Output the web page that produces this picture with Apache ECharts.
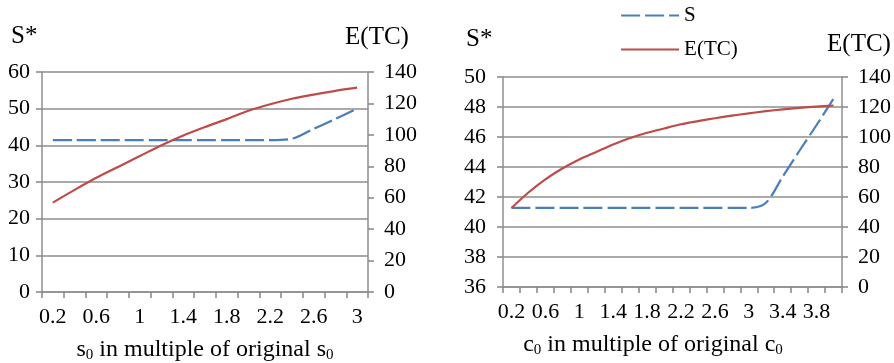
<!DOCTYPE html>
<html>
<head>
<meta charset="utf-8">
<script src="https://cdn.jsdelivr.net/npm/echarts@6/dist/echarts.min.js"></script>
<style>
  html, body { margin: 0; padding: 0; background: #fff; }
  #chart { width: 894px; height: 363px; }
</style>
</head>
<body>
<div id="chart"></div>
<script>
// Left panel: S* and E(TC) against s0 multiples
const leftCategories = ['0.2','0.4','0.6','0.8','1','1.2','1.4','1.6','1.8','2','2.2','2.4','2.6','2.8','3'];
const leftS = [41.4, 41.4, 41.4, 41.4, 41.4, 41.4, 41.4, 41.4, 41.4, 41.4, 41.4, 41.8, 44.5, 47.2, 50];
const leftETC = [56.9, 65, 72.7, 79.6, 86.5, 93.4, 99.6, 105, 110, 115.3, 119.5, 123, 125.6, 128, 130];

// Right panel: S* and E(TC) against c0 multiples
const rightCategories = ['0.2','0.4','0.6','0.8','1','1.2','1.4','1.6','1.8','2','2.2','2.4','2.6','2.8','3','3.2','3.4','3.6','3.8','4'];
const rightS = [41.27, 41.27, 41.27, 41.27, 41.27, 41.27, 41.27, 41.27, 41.27, 41.27, 41.27, 41.27, 41.27, 41.27, 41.27, 41.6, 43.35, 45.1, 46.8, 48.55];
const rightETC = [52.7, 63, 71.8, 79, 85, 90, 95, 99.3, 102.8, 105.7, 108.5, 110.6, 112.5, 114.2, 115.8, 117.2, 118.4, 119.4, 120.3, 121];

const FONT = "'Liberation Serif', 'Times New Roman', serif";
const GRID_COLOR = '#8e8e8e';
const TICK_COLOR = '#858585';
const BLUE = '#4A7EBB';
const RED = '#BE4B48';

function catAxis(gridIndex, data) {
  return {
    type: 'category',
    gridIndex: gridIndex,
    data: data,
    boundaryGap: true,
    axisLine: { show: true, lineStyle: { color: GRID_COLOR, width: 1.5 } },
    axisTick: { show: true, inside: false, interval: 0, length: 6, lineStyle: { color: TICK_COLOR, width: 1.5 } },
    axisLabel: { interval: 1, color: '#000', fontFamily: FONT, fontSize: 22, margin: 14 },
    splitLine: { show: false }
  };
}

function valAxis(gridIndex, min, max, interval, position, split, margin) {
  return {
    type: 'value',
    gridIndex: gridIndex,
    position: position,
    min: min,
    max: max,
    interval: interval,
    axisLine: { show: true, lineStyle: { color: GRID_COLOR, width: 1.5 } },
    axisTick: { show: true, inside: false, length: 6, lineStyle: { color: TICK_COLOR, width: 1.5 } },
    axisLabel: { color: '#000', fontFamily: FONT, fontSize: 22, margin: margin },
    splitLine: { show: split, lineStyle: { color: GRID_COLOR, width: 1.5 } }
  };
}

function lineSeries(name, xi, yi, data, color, dashed) {
  return {
    name: name,
    type: 'line',
    xAxisIndex: xi,
    yAxisIndex: yi,
    data: data,
    symbol: 'none',
    showSymbol: false,
    smooth: 0.3,
    lineStyle: { color: color, width: 2.2, type: dashed ? [19, 5] : 'solid' },
    itemStyle: { color: color },
    animation: false
  };
}

const subTitle = (base) => ({
  text: '{t|' + base + '}{s|0}{t| in multiple of original ' + base + '}{s|0}',
  rich: {
    t: { fontFamily: FONT, fontSize: 24, fill: '#000', lineHeight: 26 },
    s: { fontFamily: FONT, fontSize: 15, fill: '#000', verticalAlign: 'bottom', lineHeight: 22 }
  },
  align: 'center',
  verticalAlign: 'middle'
});

const option = {
  backgroundColor: '#fff',
  animation: false,
  legend: {
    data: ['S', 'E(TC)'],
    orient: 'vertical',
    left: 615,
    top: 0,
    itemWidth: 58,
    itemHeight: 14,
    itemGap: 13,
    itemStyle: { opacity: 0, borderWidth: 0 },
    lineStyle: { width: 2.2 },
    textStyle: { fontFamily: FONT, fontSize: 21, color: '#000', lineHeight: 20 }
  },
  grid: [
    { left: 42, top: 72, width: 326, height: 220 },
    { left: 503, top: 77, width: 341, height: 210 }
  ],
  xAxis: [catAxis(0, leftCategories), catAxis(1, rightCategories)],
  yAxis: [
    valAxis(0, 0, 60, 10, 'left', true, 12),
    valAxis(0, 0, 140, 20, 'right', false, 16),
    valAxis(1, 36, 50, 2, 'left', true, 17),
    valAxis(1, 0, 140, 20, 'right', false, 16)
  ],
  series: [
    lineSeries('S', 0, 0, leftS, BLUE, true),
    lineSeries('E(TC)', 0, 1, leftETC, RED, false),
    lineSeries('S', 1, 2, rightS, BLUE, true),
    lineSeries('E(TC)', 1, 3, rightETC, RED, false)
  ],
  graphic: [
    { type: 'text', left: 11, top: 24, style: { text: 'S*', fontFamily: FONT, fontSize: 25, fill: '#000' } },
    { type: 'text', x: 377, y: 37, style: { text: 'E(TC)', fontFamily: FONT, fontSize: 25, fill: '#000', align: 'center', verticalAlign: 'middle' } },
    { type: 'text', left: 466, top: 27, style: { text: 'S*', fontFamily: FONT, fontSize: 25, fill: '#000' } },
    { type: 'text', x: 859, y: 44, style: { text: 'E(TC)', fontFamily: FONT, fontSize: 25, fill: '#000', align: 'center', verticalAlign: 'middle' } },
    { type: 'text', x: 205, y: 350, style: subTitle('s') },
    { type: 'text', x: 653, y: 345, style: subTitle('c') }
  ]
};

const chart = echarts.init(document.getElementById('chart'), null, { renderer: 'canvas' });
chart.setOption(option);
</script>
</body>
</html>
